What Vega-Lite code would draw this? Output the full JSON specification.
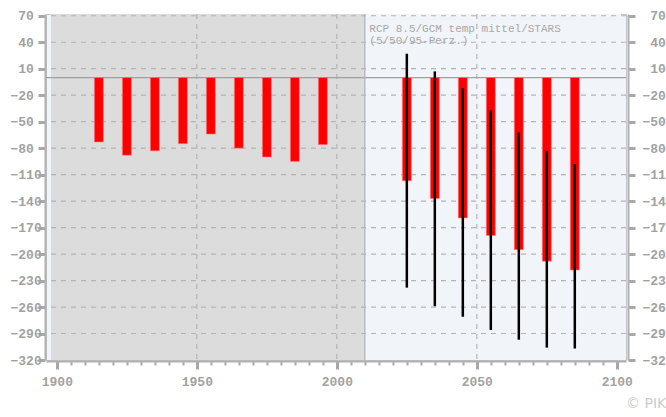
{
  "$schema": "https://vega.github.io/schema/vega-lite/v6.json",
  "width": 580,
  "height": 346,
  "autosize": "none",
  "padding": {"left": 46, "top": 14, "right": 40, "bottom": 57},
  "background": "white",
  "config": {
    "view": {"stroke": "#c4c4c4", "strokeWidth": 1, "fill": "#f1f4f9"},
    "axis": {
      "labelFont": "Liberation Mono",
      "labelFontSize": 13,
      "labelFontWeight": "bold",
      "labelColor": "#a2a2a2",
      "domainColor": "#b0b0b0",
      "domainWidth": 2,
      "tickColor": "#a8a8a8",
      "grid": false,
      "title": null,
      "labelOverlap": false,
      "labelFlush": false
    }
  },
  "title": {
    "text": "© PIK",
    "orient": "bottom",
    "anchor": "end",
    "frame": "group",
    "align": "left",
    "baseline": "top",
    "font": "DejaVu Sans",
    "fontSize": 14,
    "fontWeight": "normal",
    "color": "#cccccc",
    "offset": 9
  },
  "datasets": {
    "regions": [
      {"start": 1897.9, "end": 2010, "period": "hist"},
      {"start": 2010, "end": 2101.5, "period": "future"}
    ],
    "hgrid": [
      {"v": 70}, {"v": 40}, {"v": 10}, {"v": -20}, {"v": -50}, {"v": -80},
      {"v": -110}, {"v": -140}, {"v": -170}, {"v": -200}, {"v": -230},
      {"v": -260}, {"v": -290}
    ],
    "vgrid": [{"year": 1950}, {"year": 2000}, {"year": 2050}],
    "hist": [
      {"year": 1915, "value": -73},
      {"year": 1925, "value": -88},
      {"year": 1935, "value": -83},
      {"year": 1945, "value": -75},
      {"year": 1955, "value": -64},
      {"year": 1965, "value": -80},
      {"year": 1975, "value": -90},
      {"year": 1985, "value": -95},
      {"year": 1995, "value": -76}
    ],
    "future": [
      {"year": 2025, "value": -117, "lo": -238, "hi": 27},
      {"year": 2035, "value": -137, "lo": -259, "hi": 7},
      {"year": 2045, "value": -159, "lo": -271, "hi": -12},
      {"year": 2055, "value": -179, "lo": -286, "hi": -37},
      {"year": 2065, "value": -195, "lo": -297, "hi": -62},
      {"year": 2075, "value": -208, "lo": -306, "hi": -83},
      {"year": 2085, "value": -218, "lo": -307, "hi": -98}
    ],
    "label": [
      {"year": 2011.6, "value": 51.5, "text": "RCP 8.5/GCM temp mittel/STARS"},
      {"year": 2011.6, "value": 37.5, "text": "(5/50/95-Perz.)"}
    ]
  },
  "resolve": {"axis": {"x": "independent", "y": "independent"}},
  "layer": [
    {
      "data": {"name": "regions"},
      "mark": {"type": "rect"},
      "encoding": {
        "x": {
          "field": "start", "type": "quantitative",
          "scale": {"domain": [1897.9, 2101.5], "nice": false, "zero": false},
          "axis": {
            "orient": "bottom",
            "offset": 1,
            "values": [1900,1905,1910,1915,1920,1925,1930,1935,1940,1945,1950,1955,1960,1965,1970,1975,1980,1985,1990,1995,2000,2005,2010,2015,2020,2025,2030,2035,2040,2045,2050,2055,2060,2065,2070,2075,2080,2085,2090,2095,2100],
            "format": "d",
            "labelExpr": "datum.value % 50 === 0 ? datum.label : ''",
            "tickSize": {"condition": {"test": "datum.value % 50 === 0", "value": 8}, "value": 4},
            "tickWidth": {"condition": {"test": "datum.value % 50 === 0", "value": 3}, "value": 2},
            "labelPadding": 6,
            "labelFlush": false,
            "labelOverlap": false
          }
        },
        "x2": {"field": "end"},
        "y": {
          "datum": -320, "type": "quantitative",
          "scale": {"domain": [-320, 72], "nice": false, "zero": false},
          "axis": {
            "orient": "left",
            "offset": 1,
            "values": [70,40,10,-20,-50,-80,-110,-140,-170,-200,-230,-260,-290,-320],
            "labelAlign": "left",
            "labelBaseline": "middle",
            "labelPadding": 28,
            "tickSize": 7,
            "tickWidth": 3,
            "labelExpr": "datum.value >= 0 ? '\u200b\u00a0' + datum.label : datum.label",
            "labelOverlap": false,
            "labelFlush": false
          }
        },
        "y2": {"datum": 72},
        "color": {
          "field": "period", "type": "nominal",
          "scale": {"domain": ["hist", "future"], "range": ["#dcdcdc", "#f1f4f9"]},
          "legend": null
        }
      }
    },
    {
      "data": {"name": "hgrid"},
      "mark": {"type": "rule", "color": "#b4b4b4", "strokeWidth": 1.2, "strokeDash": [5, 5]},
      "encoding": {
        "y": {
          "field": "v", "type": "quantitative",
          "axis": {
            "orient": "right",
            "offset": 2,
            "values": [70,40,10,-20,-50,-80,-110,-140,-170,-200,-230,-260,-290,-320],
            "labelAlign": "left",
            "labelBaseline": "middle",
            "labelPadding": 7,
            "tickSize": 7,
            "tickWidth": 3,
            "labelExpr": "datum.value >= 0 ? '\u200b\u00a0' + datum.label : datum.label",
            "labelOverlap": false,
            "labelFlush": false
          }
        }
      }
    },
    {
      "data": {"name": "vgrid"},
      "mark": {"type": "rule", "color": "#b4b4b4", "strokeWidth": 1.2, "strokeDash": [5, 5]},
      "encoding": {
        "x": {"field": "year", "type": "quantitative", "axis": null}
      }
    },
    {
      "data": {"values": [{"v": 0}]},
      "mark": {"type": "rule", "color": "#a0a0a0", "strokeWidth": 1.2},
      "encoding": {
        "y": {"field": "v", "type": "quantitative", "axis": null}
      }
    },
    {
      "data": {"values": [{"year": 2010}]},
      "mark": {"type": "rule", "color": "#b0b0b0", "strokeWidth": 1.2},
      "encoding": {
        "x": {"field": "year", "type": "quantitative", "axis": null}
      }
    },
    {
      "data": {"name": "hist"},
      "mark": {"type": "bar", "color": "#ff0000", "width": 9, "stroke": "#ff8080", "strokeWidth": 0.6},
      "encoding": {
        "x": {"field": "year", "type": "quantitative", "axis": null},
        "y": {"field": "value", "type": "quantitative", "axis": null}
      }
    },
    {
      "data": {"name": "future"},
      "mark": {"type": "bar", "color": "#ff0000", "width": 9, "stroke": "#ff8080", "strokeWidth": 0.6},
      "encoding": {
        "x": {"field": "year", "type": "quantitative", "axis": null},
        "y": {"field": "value", "type": "quantitative", "axis": null}
      }
    },
    {
      "data": {"name": "future"},
      "mark": {"type": "rule", "color": "#000000", "strokeWidth": 2.5},
      "encoding": {
        "x": {"field": "year", "type": "quantitative", "axis": null},
        "y": {"field": "lo", "type": "quantitative", "axis": null},
        "y2": {"field": "hi"}
      }
    },
    {
      "data": {"name": "label"},
      "mark": {"type": "text", "font": "Liberation Mono", "fontSize": 11, "color": "#a8a8a8", "align": "left", "baseline": "alphabetic"},
      "encoding": {
        "x": {"field": "year", "type": "quantitative", "axis": null},
        "y": {"field": "value", "type": "quantitative", "axis": null},
        "text": {"field": "text"}
      }
    }
  ]
}
